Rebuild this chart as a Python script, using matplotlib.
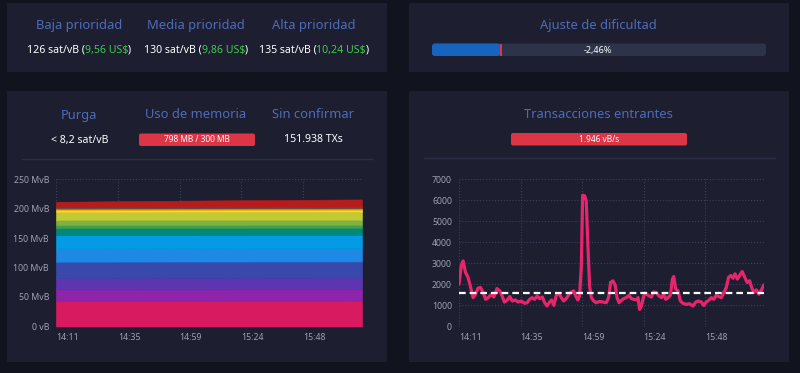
import matplotlib
matplotlib.use("Agg")
import matplotlib.pyplot as plt
from matplotlib.patches import FancyBboxPatch, Rectangle

plt.rcParams['font.family'] = ['Noto Sans', 'DejaVu Sans']

W, H = 800, 373

# ---------------------------------------------------------------------------
# Data
# ---------------------------------------------------------------------------

prio_titles = ["Baja prioridad", "Media prioridad", "Alta prioridad"]
prio_sat = ["126", "130", "135"]
prio_usd = ["9,56", "9,86", "10,24"]

difficulty_title = "Ajuste de dificultad"
difficulty_change = "-2,46%"
difficulty_progress = 0.205   # share of the epoch already mined

mempool_titles = ["Purga", "Uso de memoria", "Sin confirmar"]
purge_text = "< 8,2 sat/vB"
memory_text = "798 MB / 300 MB"
unconfirmed_text = "151.938 TXs"

incoming_title = "Transacciones entrantes"
incoming_text = "1.946 vB/s"

time_labels = ["14:11", "14:35", "14:59", "15:24", "15:48"]
tick_minutes = [0, 24, 48, 72, 96]
end_minute = 118.9

# mempool size per fee band (MvB), bottom band first
mem_minutes = [0, 20, 40, 60, 80, 100, 118.9]
mem_bands = [
    [43.5, 43.6, 43.7, 43.7, 43.8, 43.8, 43.9],
    [19.3, 19.3, 19.3, 19.4, 19.4, 19.4, 19.4],
    [19.7, 19.7, 19.7, 19.7, 19.7, 19.7, 19.7],
    [27.3, 27.3, 27.3, 27.3, 27.3, 27.3, 27.3],
    [22.5, 22.5, 22.5, 22.5, 22.5, 22.5, 22.5],
    [22.5, 22.5, 22.5, 22.5, 22.5, 22.5, 22.5],
    [12.0, 12.0, 12.0, 12.0, 12.0, 12.0, 12.0],
    [5.0, 5.0, 5.0, 5.0, 5.0, 5.0, 5.0],
    [8.5, 8.5, 8.5, 8.5, 8.5, 8.5, 8.5],
    [14.0, 14.0, 14.0, 14.0, 14.0, 14.0, 14.0],
    [3.0, 3.0, 3.0, 3.0, 3.0, 3.0, 3.0],
    [1.5, 1.5, 1.5, 1.5, 1.5, 1.5, 1.5],
    [1.0, 1.0, 1.0, 1.0, 1.0, 1.0, 1.0],
    [3.0, 3.0, 3.0, 3.0, 3.0, 3.0, 3.0],
    [8.5, 9.3, 10.0, 10.6, 11.0, 11.6, 12.1],
]
band_colors = ['#d81b60', '#8e24aa', '#5e35b1', '#3949ab', '#1e88e5', '#039be5',
               '#00897b', '#43a047', '#7cb342', '#c0ca33', '#fdd835', '#ffb300',
               '#fb8c00', '#6d4c41', '#b71c1c']

# incoming transactions (vB/s)
tx_minutes = [0, 0.9, 1.6, 2.5, 3.5, 4.4, 5.5, 6.4, 7.4, 8.4,
              9.4, 10.4, 11.4, 12.6, 13.6, 14.8, 15.9, 16.8, 17.7, 18.7,
              19.8, 20.8, 22.0, 23.0, 24.3, 25.6, 26.6, 27.5, 28.5, 29.5,
              30.5, 31.4, 32.5, 33.4, 34.3, 35.3, 36.1, 37.0, 37.9, 38.9,
              39.9, 40.8, 41.8, 42.9, 43.8, 44.7, 45.5, 46.3, 47.0, 47.7,
              48.2, 49.0, 49.6, 50.3, 50.9, 51.6, 52.5, 53.5, 54.8, 56.1,
              57.4, 58.3, 59.1, 60.0, 60.9, 61.6, 62.4, 63.3, 64.2, 65.2,
              66.3, 67.2, 68.1, 69.1, 69.8, 70.4, 71.1, 72.0, 73.0, 74.1,
              75.0, 75.9, 76.9, 78.0, 78.9, 79.8, 80.6, 81.5, 82.4, 83.2,
              83.7, 84.5, 85.4, 86.3, 87.3, 88.6, 89.9, 91.2, 92.3, 93.3,
              94.5, 95.4, 96.4, 97.3, 98.4, 99.3, 100.3, 101.2, 102.3, 103.2,
              104.2, 105.1, 106.0, 106.8, 107.6, 108.5, 109.4, 110.4, 111.4, 112.3,
              113.3, 114.1, 114.9, 115.9, 116.9, 117.9, 118.9]
tx_vbytes = [2010, 2900, 3110, 2580, 2340, 1930, 1370, 1530, 1820, 1850,
             1610, 1290, 1370, 1530, 1400, 1800, 1690, 1450, 1160, 1240,
             1420, 1210, 1260, 1160, 1210, 1100, 1130, 1290, 1370, 1290,
             1450, 1320, 1400, 1130, 970, 1160, 1260, 1000, 1480, 1560,
             1370, 1210, 1320, 1530, 1640, 1690, 1450, 1260, 1450, 2900,
             6230, 6200, 5960, 3700, 1930, 1370, 1210, 1130, 1190, 1160,
             1130, 1370, 2090, 2170, 1960, 1370, 1130, 1240, 1320, 1370,
             1480, 1320, 1290, 1260, 1370, 810, 970, 1450, 1560, 1450,
             1400, 1640, 1610, 1450, 1370, 1530, 1290, 1370, 1480, 2250,
             2370, 1770, 1690, 1210, 1100, 1050, 1080, 970, 1160, 1210,
             1160, 1000, 1160, 1240, 1370, 1290, 1480, 1420, 1370, 1610,
             1850, 2340, 2420, 2290, 2500, 2250, 2420, 2610, 2340, 2090,
             2170, 1850, 1610, 1740, 1530, 1740, 1980]
tx_minimum = 1600

# ---------------------------------------------------------------------------
# Colours
# ---------------------------------------------------------------------------

BG = "#11131f"
CARD = "#1d1f31"
TITLE = "#4d6cb8"
GREEN = "#3bcc49"
RED = "#dc3545"
AXIS_TXT = "#9ea0b3"
GRID = "#3c3f5a"

fig = plt.figure(figsize=(W / 100, H / 100), dpi=100, facecolor=BG)

# background layer drawn in pixel coordinates (y down)
bg = fig.add_axes([0, 0, 1, 1])
bg.set_xlim(0, W)
bg.set_ylim(H, 0)
bg.axis("off")
bg.set_zorder(0)

for x0, y0, w, h in [(7, 3, 380, 69), (409, 3, 380, 69), (7, 91, 380, 271), (409, 91, 380, 271)]:
    bg.add_patch(Rectangle((x0, y0), w, h, fc=CARD, ec="none"))

renderer = fig.canvas.get_renderer()


def rich_line(xc, y, pieces, size):
    texts = [bg.text(0, y, s, color=c, fontsize=size, ha="left", va="center") for s, c in pieces]
    widths = [t.get_window_extent(renderer).width for t in texts]
    x = xc - sum(widths) / 2
    for t, w in zip(texts, widths):
        t.set_x(x)
        x += w


def pill(x0, y0, w, h, color, radius=3):
    bg.add_patch(FancyBboxPatch((x0, y0), w, h, boxstyle=f"round,pad=0,rounding_size={radius}",
                                fc=color, ec="none", mutation_aspect=1))


def title(x, y, s):
    bg.text(x, y, s, color=TITLE, fontsize=9.3, fontweight="semibold", ha="center", va="center")


# --- fee estimates -----------------------------------------------------------
for xc, t, sat, usd in zip([79, 196, 314], prio_titles, prio_sat, prio_usd):
    title(xc, 26, t)
    rich_line(xc, 50, [(f"{sat} sat/vB (", "white"), (f"{usd} US$", GREEN), (")", "white")], 7.6)

# --- difficulty adjustment ---------------------------------------------------
title(598, 26, difficulty_title)
bar_x, bar_w = 432, 334
pill(bar_x, 43.5, bar_w, 12.5, "#2d3348")
pill(bar_x, 43.5, bar_w * difficulty_progress, 12.5, "#1763c0")
bg.add_patch(Rectangle((bar_x + bar_w * difficulty_progress - 0.5, 43.5), 1.6, 12.5, fc="#e0354a", ec="none"))
bg.text(598, 50, difficulty_change, color="white", fontsize=6.5, ha="center", va="center")

# --- mempool stats -----------------------------------------------------------
for xc, t in zip([79, 196, 313], mempool_titles):
    title(xc, 115, t)
bg.text(80, 140, purge_text, color="white", fontsize=7.6, ha="center", va="center")
pill(139, 133.5, 116, 12.5, RED, radius=2)
bg.text(197, 140, memory_text, color="white", fontsize=6, ha="center", va="center")
bg.text(313, 140, unconfirmed_text, color="white", fontsize=7.6, ha="center", va="center")
bg.plot([22, 372], [159, 159], color="#2b2e46", lw=1)

# --- incoming transactions header -------------------------------------------
title(598, 114, incoming_title)
pill(511, 133, 176, 12.5, RED, radius=2)
bg.text(599, 139.5, incoming_text, color="white", fontsize=6, ha="center", va="center")
bg.plot([424, 775], [158, 158], color="#2b2e46", lw=1)


# ---------------------------------------------------------------------------
# Charts
# ---------------------------------------------------------------------------

def style_axes(ax, yticks, ylabels, ymax):
    ax.set_facecolor("none")
    ax.set_xlim(0, end_minute)
    ax.set_ylim(0, ymax)
    ax.set_xticks(tick_minutes)
    ax.set_xticklabels(time_labels)
    for lbl in ax.get_xticklabels():
        lbl.set_ha("left")
    ax.set_yticks(yticks)
    ax.set_yticklabels(ylabels)
    ax.tick_params(length=0, labelsize=6.3, colors=AXIS_TXT, pad=5)
    for s in ax.spines.values():
        s.set_visible(False)
    ax.grid(True, color=GRID, ls=":", lw=0.8)
    ax.set_axisbelow(True)


y0 = 1 - 326.5 / H
ax1 = fig.add_axes([56 / W, y0, 306 / W, 147.5 / H])
polys = ax1.stackplot(mem_minutes, *mem_bands, colors=band_colors, lw=0.4)
for p in polys:
    p.set_edgecolor(p.get_facecolor())
style_axes(ax1, [0, 50, 100, 150, 200, 250],
           ["0 vB", "50 MvB", "100 MvB", "150 MvB", "200 MvB", "250 MvB"], 250)

ax2 = fig.add_axes([459 / W, y0, 305 / W, 147.5 / H])
ax2.plot(tx_minutes, tx_vbytes, color="#e8246c", lw=2.3, solid_joinstyle="round",
         solid_capstyle="round", zorder=3)
ax2.axhline(tx_minimum, color="white", ls=(0, (3, 1.8)), lw=1.6, zorder=4)
style_axes(ax2, list(range(0, 8000, 1000)), [str(v) for v in range(0, 8000, 1000)], 7000)

fig.savefig("out.png", dpi=100, facecolor=BG)
